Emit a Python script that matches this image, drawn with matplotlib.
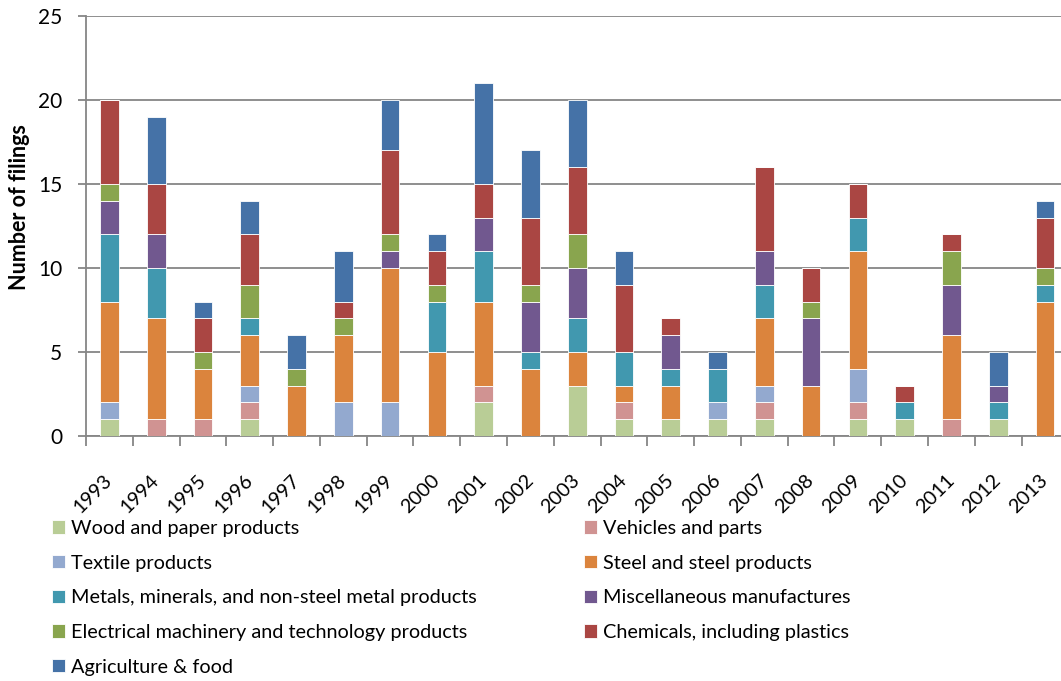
import matplotlib
matplotlib.use('Agg')
import matplotlib.pyplot as plt
import numpy as np

years = [str(y) for y in range(1993, 2014)]

# filings per sector and year, stacked bottom to top in this order
wood       = [1, 0, 0, 1, 0, 0, 0, 0, 2, 0, 3, 1, 1, 1, 1, 0, 1, 1, 0, 1, 0]
vehicles   = [0, 1, 1, 1, 0, 0, 0, 0, 1, 0, 0, 1, 0, 0, 1, 0, 1, 0, 1, 0, 0]
textile    = [1, 0, 0, 1, 0, 2, 2, 0, 0, 0, 0, 0, 0, 1, 1, 0, 2, 0, 0, 0, 0]
steel      = [6, 6, 3, 3, 3, 4, 8, 5, 5, 4, 2, 1, 2, 0, 4, 3, 7, 0, 5, 0, 8]
metals     = [4, 3, 0, 1, 0, 0, 0, 3, 3, 1, 2, 2, 1, 2, 2, 0, 2, 1, 0, 1, 1]
misc       = [2, 2, 0, 0, 0, 0, 1, 0, 2, 3, 3, 0, 2, 0, 2, 4, 0, 0, 3, 1, 0]
electrical = [1, 0, 1, 2, 1, 1, 1, 1, 0, 1, 2, 0, 0, 0, 0, 1, 0, 0, 2, 0, 1]
chemicals  = [5, 3, 2, 3, 0, 1, 5, 2, 2, 4, 4, 4, 1, 0, 5, 2, 2, 1, 1, 0, 3]
agri       = [0, 4, 1, 2, 2, 3, 3, 1, 6, 4, 4, 2, 0, 1, 0, 0, 0, 0, 0, 2, 1]

series = [
    ("Wood and paper products", wood, "#B9CD96"),
    ("Vehicles and parts", vehicles, "#D09392"),
    ("Textile products", textile, "#93A9CF"),
    ("Steel and steel products", steel, "#DB843D"),
    ("Metals, minerals, and non-steel metal products", metals, "#4198AF"),
    ("Miscellaneous manufactures", misc, "#71588F"),
    ("Electrical machinery and technology products", electrical, "#89A54E"),
    ("Chemicals, including plastics", chemicals, "#AA4643"),
    ("Agriculture & food", agri, "#4572A7"),
]

plt.rcParams['font.family'] = ['Lato', 'DejaVu Sans']
GRAY = "#868686"
FS = 14.3

W, H = 1061, 681
fig = plt.figure(figsize=(W / 100, H / 100), dpi=100)
ax = fig.add_axes([86 / W, 1 - 436 / H, (1068.4 - 86) / W, (436 - 16) / H])

x = np.arange(len(years))
bottom = np.zeros(len(years))
handles = []
for name, vals, color in series:
    b = ax.bar(x, vals, width=0.4, bottom=bottom, color=color,
               edgecolor='white', linewidth=0.6, label=name, zorder=3)
    handles.append(b)
    bottom += np.array(vals)

ax.set_xlim(-0.5, len(years) - 0.5)
ax.set_ylim(0, 25)
ax.set_yticks(range(0, 26, 5))
ax.yaxis.grid(True, color=GRAY, linewidth=1.3, zorder=0)
ax.set_axisbelow(True)

for s in ['top', 'right']:
    ax.spines[s].set_visible(False)
for s in ['left', 'bottom']:
    ax.spines[s].set_color(GRAY)
    ax.spines[s].set_linewidth(1.3)

ax.tick_params(axis='y', length=6, color=GRAY, width=1.3, pad=11, labelsize=FS + 0.7)

# year labels at bar centres, tick marks between categories
ax.set_xticks(x)
ax.set_xticklabels(years, rotation=45, ha='right', va='center',
                   rotation_mode='anchor', fontsize=FS)
ax.tick_params(axis='x', which='major', length=0, pad=30)
ax.set_xticks(np.arange(-0.5, len(years), 1), minor=True)
ax.tick_params(axis='x', which='minor', length=7, color=GRAY, width=1.3)

fig.text(20 / W, 1 - 207 / H, "Number of filings", rotation=90,
         ha='center', va='center', fontsize=15.5, fontweight='bold')

# two legend columns filled top-down: left gets the odd entries, right the even ones
order = [0, 2, 4, 6, 8, 1, 3, 5, 7]
fig.legend(handles=[handles[i] for i in order], loc='upper left',
           bbox_to_anchor=(44 / W, 1 - 512 / H),
           ncol=2, frameon=False, fontsize=FS, handlelength=0.65, handleheight=0.65,
           handletextpad=0.3, labelspacing=0.89, columnspacing=5.4, borderaxespad=0)

fig.savefig("out.png", dpi=100)
